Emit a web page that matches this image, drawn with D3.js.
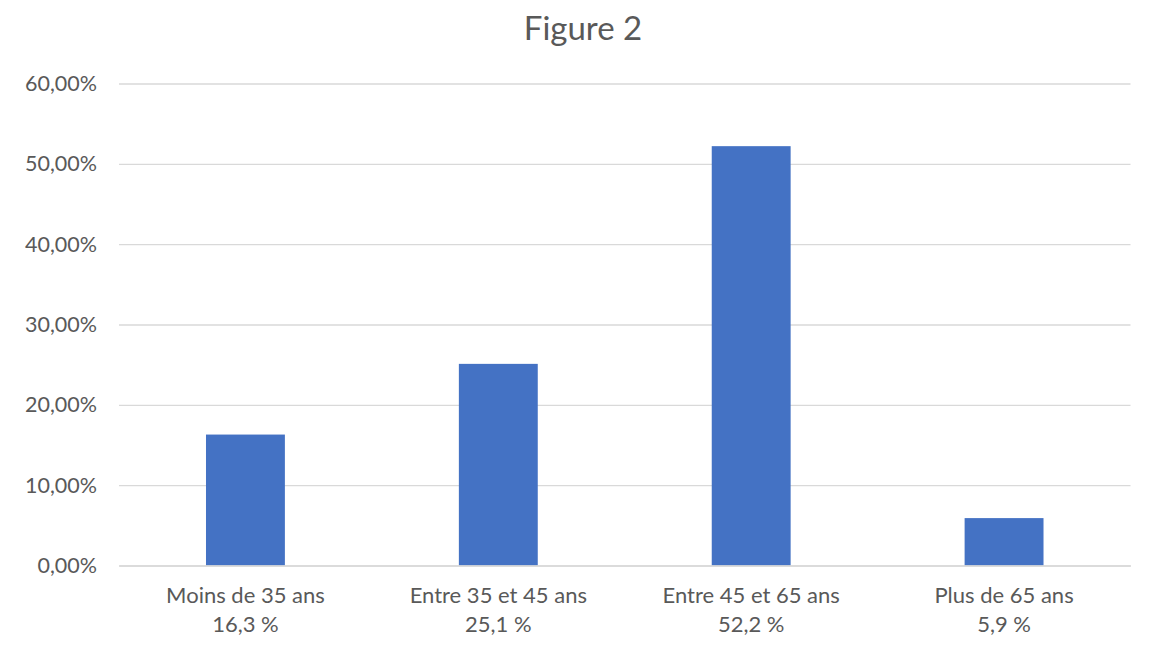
<!DOCTYPE html>
<html><head><meta charset="utf-8">
<script src="https://cdn.jsdelivr.net/npm/d3@7"></script>
<style>body{margin:0;background:#fff}svg{display:block}</style>
</head><body>
<svg id="c" width="1154" height="654"></svg>
<script>
const categories = ["Moins de 35 ans", "Entre 35 et 45 ans", "Entre 45 et 65 ans", "Plus de 65 ans"];
const valueLabels = ["16,3 %", "25,1 %", "52,2 %", "5,9 %"];
const values = [16.3, 25.1, 52.2, 5.9];
const yTicks = [0, 10, 20, 30, 40, 50, 60];
const title = "Figure 2";

(function () {
const svg = d3.select("#c");
const font = "Lato, 'Open Sans', sans-serif";
const textColor = "#595959";
const mLeft = 119, mRight = 1130.5, mTop = 83.5, mBottom = 565.5;

const x = d3.scaleBand().domain(categories).range([mLeft, mRight]).paddingInner(0.688).paddingOuter(0.344);
const y = d3.scaleLinear().domain([0, 60]).range([mBottom, mTop]);

svg.append("text").attr("x", 583).attr("y", 40).attr("text-anchor", "middle")
  .attr("font-family", font).attr("font-size", 33).attr("fill", textColor).text(title);

const yAxis = d3.axisLeft(y).tickValues(yTicks).tickSize(-(mRight - mLeft)).tickPadding(22)
  .tickFormat(d => d3.format(".2f")(d).replace(".", ",") + "%");
const gy = svg.append("g").attr("transform", `translate(${mLeft},0)`).call(yAxis);
gy.select(".domain").remove();
gy.selectAll(".tick line").attr("stroke", "#d9d9d9").attr("stroke-width", 1.3);
gy.selectAll(".tick text").attr("font-family", font).attr("font-size", 21.5).attr("fill", textColor);

svg.append("g").selectAll("rect").data(values).join("rect")
  .attr("x", (d, i) => x(categories[i])).attr("width", x.bandwidth())
  .attr("y", d => y(d)).attr("height", d => y(0) - y(d)).attr("fill", "#4472c4");

const xAxis = d3.axisBottom(x).tickSize(0).tickPadding(0);
const gx = svg.append("g").attr("transform", `translate(0,${mBottom})`).call(xAxis);
gx.select(".domain").attr("stroke", "#d9d9d9").attr("stroke-width", 1.3);
gx.selectAll(".tick text").remove();
gx.selectAll(".tick").each(function(d, i) {
  const t = d3.select(this).append("text").attr("text-anchor", "middle")
    .attr("font-family", font).attr("font-size", 22).attr("fill", textColor);
  t.append("tspan").attr("x", 0).attr("y", 37.5).text(d);
  t.append("tspan").attr("x", 0).attr("y", 66.5).text(valueLabels[i]);
});
})();
</script>
</body></html>
